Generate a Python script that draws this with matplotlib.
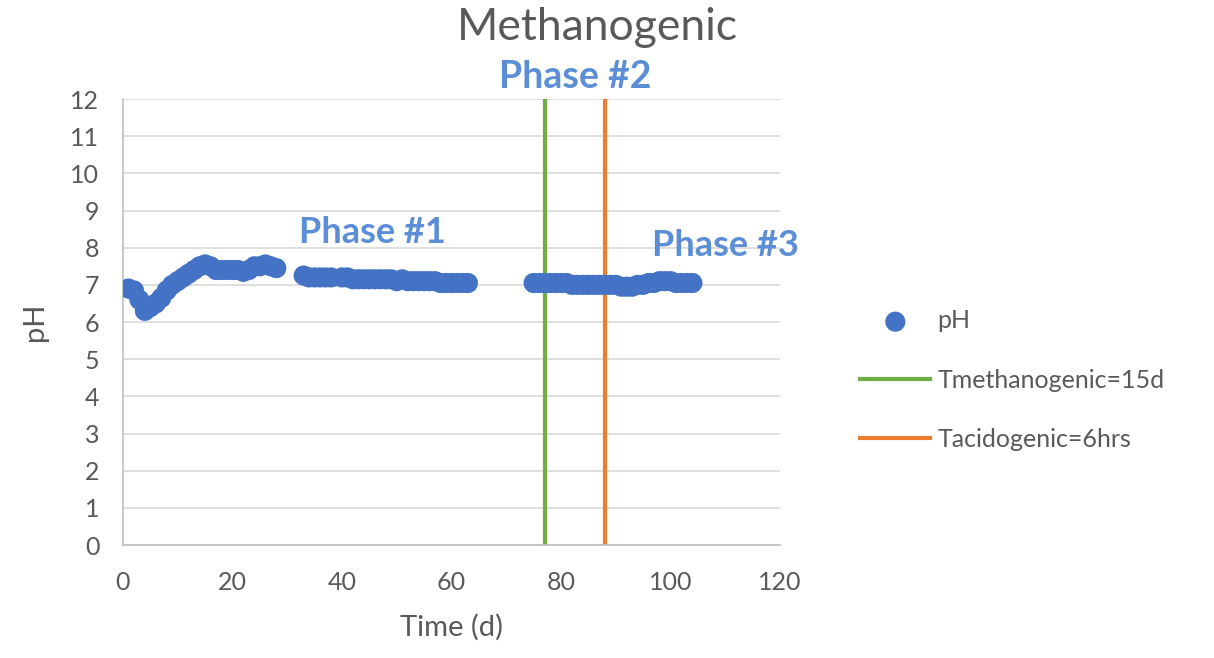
import matplotlib.pyplot as plt
import numpy as np

plt.rcParams['font.family'] = ['Lato', 'DejaVu Sans']

# pH readings (day, pH)
days_1 = [1, 2, 3, 4, 5, 6, 7, 8, 9, 10, 11, 12, 13, 14, 15, 16, 17, 18, 19, 20,
          21, 22, 23, 24, 25, 26, 27, 28]
ph_1 = [6.9, 6.85, 6.6, 6.3, 6.4, 6.5, 6.65, 6.85, 7.0, 7.1, 7.2, 7.3, 7.4, 7.5,
        7.55, 7.5, 7.4, 7.4, 7.4, 7.4, 7.4, 7.35, 7.4, 7.5, 7.5, 7.55, 7.5, 7.45]
days_2 = [33, 34, 35, 36, 37, 38, 40, 41, 42, 43, 44, 45, 46, 47, 48, 49, 50, 51,
          52, 53, 54, 55, 56, 57, 58, 59, 60, 61, 62, 63]
ph_2 = [7.25, 7.2, 7.2, 7.2, 7.2, 7.2, 7.2, 7.2, 7.15, 7.15, 7.15, 7.15, 7.15, 7.15,
        7.15, 7.15, 7.1, 7.15, 7.1, 7.1, 7.1, 7.1, 7.1, 7.1, 7.05, 7.05, 7.05, 7.05,
        7.05, 7.05]
days_3 = [75, 76, 77, 78, 79, 80, 81, 82, 83, 84, 85, 86, 87, 88, 89, 90, 91, 92,
          93, 94, 95, 96, 97, 98, 99, 100, 101, 102, 103, 104]
ph_3 = [7.05, 7.05, 7.05, 7.05, 7.05, 7.05, 7.05, 7.0, 7.0, 7.0, 7.0, 7.0, 7.0, 7.0,
        7.0, 7.0, 6.95, 6.95, 6.95, 7.0, 7.0, 7.05, 7.05, 7.1, 7.1, 7.1, 7.05, 7.05,
        7.05, 7.05]

t_methanogenic = 77
t_acidogenic = 88

days = days_1 + days_2 + days_3
ph = ph_1 + ph_2 + ph_3

grey = '#595959'

fig = plt.figure(figsize=(12.14, 6.58), dpi=100)
ax = fig.add_axes([0.1013, 0.1717, 0.5412, 0.6778])

ax.scatter(days, ph, s=210, color='#4472C4', zorder=3, label='pH', edgecolors='none')
ax.axvline(t_methanogenic, color='#70AD47', lw=3, zorder=2, label='Tmethanogenic=15d')
ax.axvline(t_acidogenic, color='#ED7D31', lw=3, zorder=2, label='Tacidogenic=6hrs')

ax.set_xlim(0, 120)
ax.set_ylim(0, 12)
ax.set_xticks(np.arange(0, 121, 20))
ax.set_yticks(np.arange(0, 13, 1))
ax.grid(axis='y', color='#D9D9D9', lw=1.2, zorder=0)
ax.set_axisbelow(True)
for s in ['top', 'right']:
    ax.spines[s].set_visible(False)
for s in ['left', 'bottom']:
    ax.spines[s].set_color('#BFBFBF')
    ax.spines[s].set_linewidth(1.2)
ax.tick_params(length=0, labelsize=18, colors=grey)
ax.tick_params(axis='x', pad=19)
ax.tick_params(axis='y', pad=17)
ax.set_xlabel('Time (d)', fontsize=21, color=grey, labelpad=14)
ax.set_ylabel('pH', fontsize=21, color=grey, labelpad=16)

fig.text(0.492, 0.958, 'Methanogenic', ha='center', va='center', fontsize=32, color=grey)

blue = '#5B8ED6'
fig.text(0.474, 0.883, 'Phase #2', ha='center', va='center', fontsize=27,
         fontweight='bold', color=blue)
ax.text(45.5, 8.4, 'Phase #1', ha='center', va='center', fontsize=26,
        fontweight='bold', color=blue)
ax.text(110.0, 8.05, 'Phase #3', ha='center', va='center', fontsize=26,
        fontweight='bold', color=blue)

leg = ax.legend(loc='center left', bbox_to_anchor=(1.088, 0.37), frameon=False,
                fontsize=18, labelspacing=1.45, handlelength=2.8, handletextpad=0.28,
                labelcolor=grey)

fig.savefig('out.png', dpi=100)
